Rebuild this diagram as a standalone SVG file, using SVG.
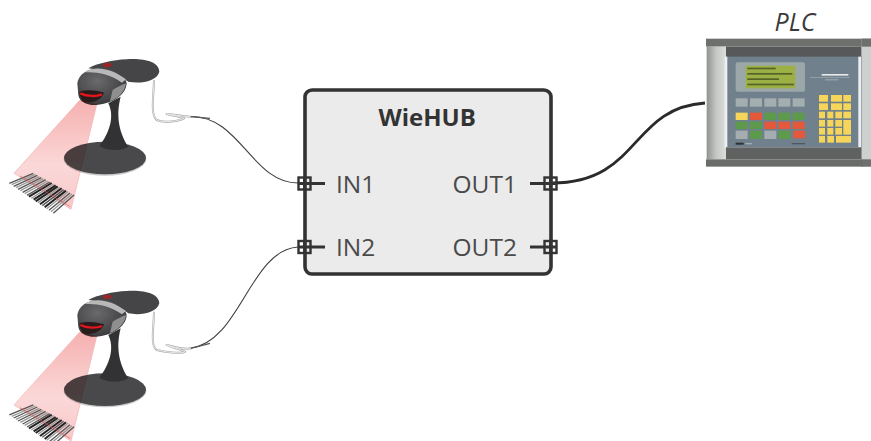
<svg xmlns="http://www.w3.org/2000/svg" xmlns:xlink="http://www.w3.org/1999/xlink" width="871" height="441" viewBox="0 0 871 441">
<style>
text{font-family:"Open Sans","Noto Sans","DejaVu Sans",sans-serif}
.lbl{font-size:24.5px;fill:#4a4a4a}
.title{font-size:24px;font-weight:700;fill:#333}
.plct{font-size:25px;font-style:italic;fill:#3a3a3a}
.box{fill:#ebebeb;stroke:#333;stroke-width:3.6}
.port{fill:none;stroke:#333;stroke-width:2.4}
.stub{fill:none;stroke:#333;stroke-width:2.8}
.wire{fill:none;stroke:#3c3c3c;stroke-width:1.1}
.wireb{fill:none;stroke:#2a2a2a;stroke-width:2.8}
.cg{fill:none;stroke:#a8a8a8;stroke-width:6;stroke-linejoin:round}
.cw{fill:none;stroke:#f4f4f4;stroke-width:2.5;stroke-linejoin:round}
.b1{stroke:#555;stroke-width:4}.b2{stroke:#999;stroke-width:4}.b3{stroke:#222;stroke-width:6}
.gr{fill:#a4adb0}.gn{fill:#5d9a4c}.rd{fill:#e4583a}.ye{fill:#f5d65a}
</style>
<defs>
<linearGradient id="beam" x1="0" y1="0" x2="0" y2="1"><stop offset="0" stop-color="#f6b0b0"/><stop offset=".6" stop-color="#fbd8d8"/><stop offset="1" stop-color="#f8c8c8"/></linearGradient>
<linearGradient id="col" x1="0" y1="0" x2="1" y2="0"><stop offset="0" stop-color="#8f9290"/><stop offset=".5" stop-color="#c6c8c6"/><stop offset="1" stop-color="#dcdedc"/></linearGradient>
<radialGradient id="hd" cx=".4" cy=".35" r=".7"><stop offset="0" stop-color="#6a6a6c"/><stop offset="1" stop-color="#38383a"/></radialGradient>
<filter id="soft" x="-5%" y="-5%" width="110%" height="110%"><feGaussianBlur stdDeviation="1.3"/></filter>
<g id="scanner" filter="url(#soft)">
<ellipse cx="315" cy="357" rx="124" ry="50" fill="#c8c8c8"/>
<ellipse cx="315" cy="354" rx="123" ry="49" fill="#4a4a4c"/>
<path d="M325 190C345 230 328 280 298 318C320 334 365 334 385 320C362 285 345 235 362 170Z" fill="#333335"/>
<path d="M265 85C290 70 340 60 380 58C430 54 478 65 478 95C470 125 420 132 385 125L340 95Z" fill="#454547"/>
<path d="M232 130C235 105 260 85 300 85C340 85 375 105 380 130C378 165 340 190 290 195C260 197 238 185 235 165Z" fill="url(#hd)"/>
<path d="M255 97C280 78 330 82 378 118L366 128C330 102 290 95 255 97Z" fill="#b8b8b8"/>
<path d="M338 150C350 142 365 135 378 130C375 155 355 175 330 184Z" fill="#8f8f90"/>
<path d="M238 155C260 148 292 150 312 158C305 180 275 192 250 185C243 178 238 165 238 155Z" fill="#2a1c1c"/>
<path d="M241 160C262 170 290 170 306 163" fill="none" stroke="#e2151a" stroke-width="7"/>
<ellipse cx="322" cy="75" rx="13" ry="6" fill="#a02428"/>
<path d="M240 180L290 195L213 508L42 400Z" fill="url(#beam)" stroke="#f2b0b0" stroke-width="2" style="mix-blend-mode:multiply"/>
<g fill="none">
<path class="b1" d="M100 400L28 430"/><path class="b2" d="M106 403L35 434"/><path class="b1" d="M112 406L41 439"/><path class="b2" d="M118 410L48 443"/><path class="b1" d="M124 413L54 448"/><path class="b2" d="M130 416L61 452"/><path class="b1" d="M137 419L68 457"/><path class="b2" d="M143 423L74 461"/><path class="b1" d="M149 426L81 466"/><path class="b3" d="M155 429L87 470"/><path class="b2" d="M161 432L94 475"/><path class="b3" d="M167 436L101 479"/><path class="b3" d="M173 439L107 484"/><path class="b2" d="M179 442L114 488"/><path class="b3" d="M185 445L120 493"/><path class="b1" d="M191 449L127 497"/><path class="b3" d="M198 452L134 502"/><path class="b2" d="M204 455L140 506"/><path class="b1" d="M210 459L147 511"/><path class="b2" d="M216 462L153 515"/><path class="b1" d="M222 465L160 520"/>
</g>
<path d="M60 408L210 500" fill="none" stroke="#d05a5a" stroke-width="3" stroke-opacity=".6"/>
</g>
<g id="plcface" filter="url(#soft)">
<rect x="48" y="116" width="495" height="24" fill="#6e706e"/>
<rect x="108" y="140" width="407" height="32" fill="#56595a"/>
<rect x="50" y="140" width="58" height="338" fill="url(#col)"/>
<rect x="515" y="116" width="28" height="384" fill="#cdd0cf"/>
<rect x="515" y="116" width="28" height="24" fill="#6e706e"/>
<rect x="515" y="478" width="28" height="22" fill="#6e706e"/>
<rect x="108" y="170" width="407" height="272" fill="#70808c"/>
<rect x="104" y="170" width="8" height="272" fill="#eef0f0"/>
<rect x="505" y="170" width="8" height="272" fill="#eef0f0"/>
<rect x="108" y="442" width="407" height="36" fill="#5f6260"/>
<rect x="48" y="478" width="470" height="22" fill="#6a6c6a"/>
<rect x="137" y="187" width="208" height="88" rx="5" fill="#9ba7a9"/>
<rect x="167" y="197" width="149" height="68" fill="#9cb044"/>
<g fill="#3c4a20" fill-opacity=".75"><rect x="172" y="203" width="85" height="5"/><rect x="172" y="219" width="135" height="5"/><rect x="172" y="235" width="95" height="5"/><rect x="172" y="251" width="140" height="5"/></g>
<rect x="395" y="222" width="80" height="5" fill="#e6e9ea"/><rect x="360" y="231" width="120" height="2" fill="#a3afb6"/><rect x="405" y="238" width="40" height="3" fill="#a3afb6"/>
<g class="gr"><rect x="137" y="295" width="36" height="25"/><rect x="180" y="295" width="36" height="25"/><rect x="223" y="295" width="36" height="25"/><rect x="265" y="295" width="36" height="25"/><rect x="308" y="295" width="36" height="25"/><rect x="137" y="392" width="36" height="25"/><rect x="223" y="392" width="36" height="25"/></g>
<rect class="ye" x="137" y="338" width="36" height="22"/><rect class="rd" x="180" y="338" width="36" height="22"/><rect class="gn" x="223" y="338" width="36" height="22"/><rect class="gn" x="265" y="338" width="36" height="22"/><rect class="gn" x="308" y="338" width="36" height="22"/>
<rect class="gn" x="137" y="365" width="36" height="22"/><rect class="gn" x="180" y="365" width="36" height="22"/><rect class="rd" x="223" y="365" width="36" height="22"/><rect class="rd" x="265" y="365" width="36" height="22"/><rect class="rd" x="308" y="365" width="36" height="22"/>
<rect class="gn" x="180" y="392" width="36" height="25"/><rect class="gn" x="265" y="392" width="36" height="25"/><rect class="rd" x="310" y="392" width="35" height="23"/>
<g class="ye"><rect x="387" y="285" width="27" height="20"/><rect x="423" y="285" width="33" height="20"/><rect x="460" y="285" width="23" height="20"/><rect x="387" y="310" width="27" height="20"/><rect x="423" y="310" width="33" height="20"/><rect x="460" y="310" width="23" height="20"/>
<rect x="387" y="335" width="18" height="20"/><rect x="412" y="335" width="18" height="20"/><rect x="436" y="335" width="20" height="20"/><rect x="460" y="335" width="23" height="20"/>
<rect x="387" y="360" width="18" height="20"/><rect x="412" y="360" width="18" height="20"/><rect x="436" y="360" width="20" height="20"/><rect x="460" y="360" width="23" height="44"/>
<rect x="387" y="384" width="18" height="20"/><rect x="412" y="384" width="18" height="20"/><rect x="436" y="384" width="20" height="20"/>
<rect x="387" y="408" width="18" height="20"/><rect x="412" y="408" width="20" height="20"/><rect x="438" y="408" width="45" height="20"/></g>
<rect x="137" y="428" width="24" height="6" fill="#2c3033"/><rect x="166" y="429" width="20" height="4" fill="#a3afb6"/><rect x="305" y="429" width="40" height="4" fill="#4c5a63"/>
</g>
</defs>
<g id="connectors">
<path class="wire" d="M191 116.500C240 116 252 183 298 183"/>
<path class="wire" d="M191 348C240 342 250 250 298 247"/>
<path class="wireb" d="M552 183C640 183 630 108 705 103"/>
</g>
<g id="scanner1" transform="translate(0,40) scale(.3333)">
<use href="#scanner"/>
<path class="cg" d="M462 120C462 160 450 225 470 240C490 250 540 243 552 235C540 228 510 226 500 222C520 222 555 232 575 230"/>
<path class="cw" d="M462 120C462 160 450 225 470 240C490 250 540 243 552 235C540 228 510 226 500 222C520 222 555 232 575 230"/>
<path d="M572 230L630 235" fill="none" stroke="#555" stroke-width="4"/>
</g>
<g id="scanner2" transform="translate(0,271.67) scale(.3333)">
<use href="#scanner"/>
<path class="cg" d="M462 120C462 160 450 225 470 235C490 240 545 248 555 240C540 232 510 226 500 220C520 225 550 235 575 230"/>
<path class="cw" d="M462 120C462 160 450 225 470 235C490 240 545 248 555 240C540 232 510 226 500 220C520 225 550 235 575 230"/>
<path d="M572 230L630 215" fill="none" stroke="#555" stroke-width="4"/>
</g>
<g id="plc">
<g transform="translate(690,0) scale(.3333)"><use href="#plcface"/></g>
<text class="plct" x="774.500" y="31">PLC</text>
</g>
<g id="wiehub">
<rect class="box" x="305" y="90" width="246" height="184" rx="7"/>
<text class="title" x="378.500" y="126">WieHUB</text>
<text class="lbl" x="336" y="192.500">IN1</text>
<text class="lbl" x="336" y="256">IN2</text>
<text class="lbl" x="452.500" y="192.500">OUT1</text>
<text class="lbl" x="452.500" y="256">OUT2</text>
<g id="in1"><rect class="port" x="298.500" y="177.500" width="12" height="12"/><path class="stub" d="M304.500 177V190M298 183.500H325"/></g>
<g id="in2"><rect class="port" x="298.500" y="241" width="12" height="12"/><path class="stub" d="M304.500 240.500V253.500M298 247H325"/></g>
<g id="out1"><rect class="port" x="544.500" y="177.500" width="12" height="12"/><path class="stub" d="M550.500 177V190M530 183.500H557"/></g>
<g id="out2"><rect class="port" x="544.500" y="241" width="12" height="12"/><path class="stub" d="M550.500 240.500V253.500M530 247H557"/></g>
</g>
</svg>
